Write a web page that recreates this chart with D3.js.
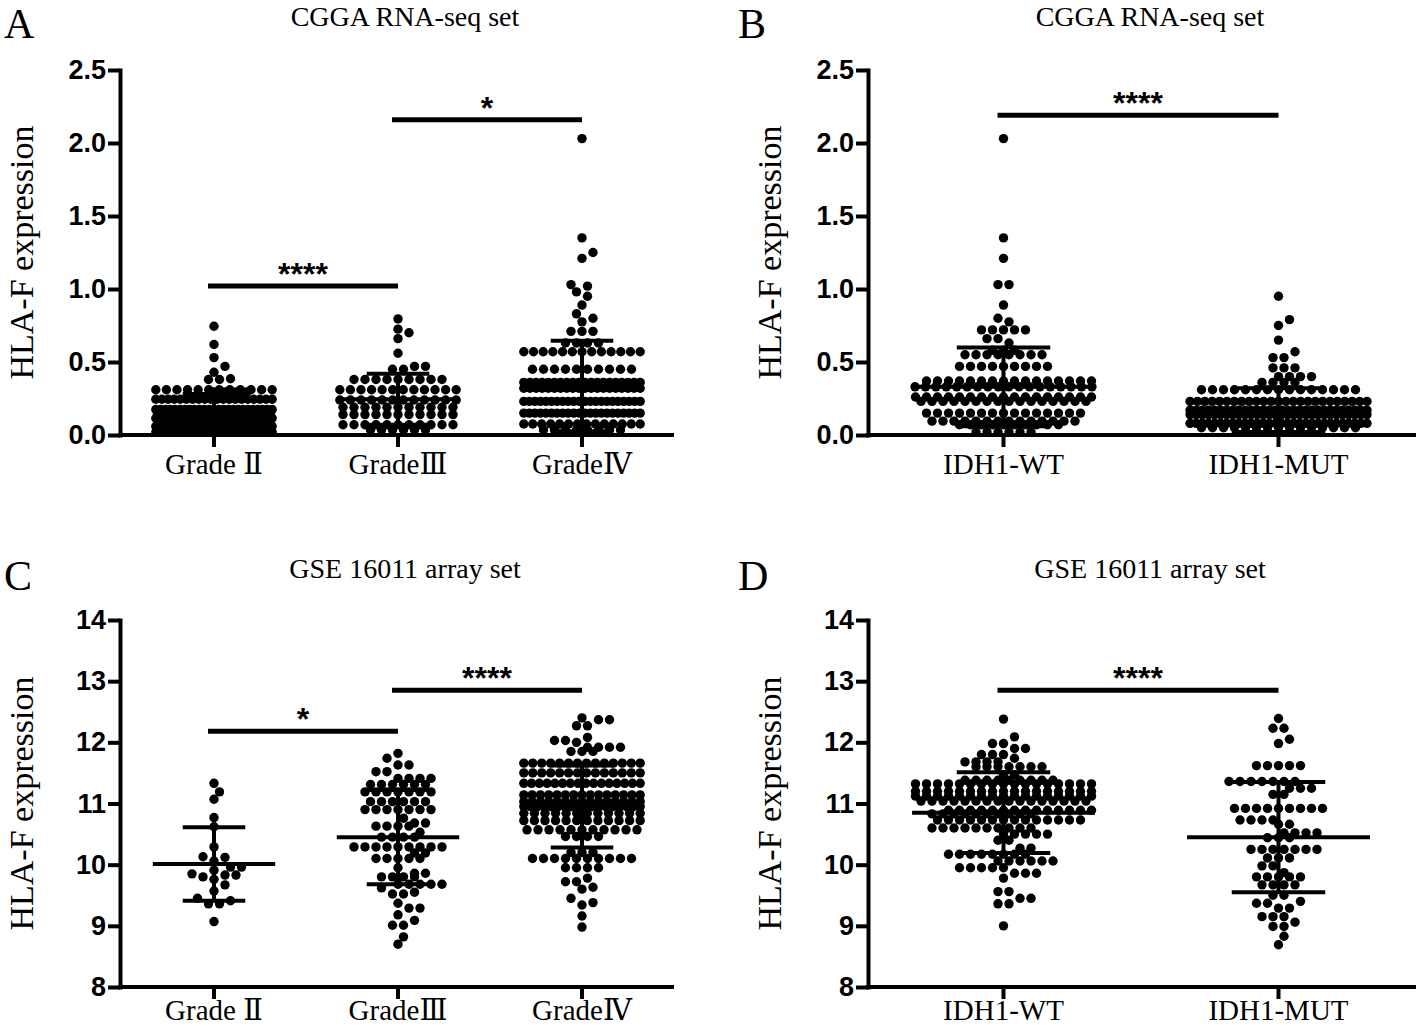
<!DOCTYPE html>
<html><head><meta charset="utf-8">
<script src="https://cdn.jsdelivr.net/npm/d3@7"></script>
<style>body{margin:0;background:#fff}</style>
</head><body>
<script>
// ---------------- DATA ----------------
const gradeCats = ["Grade Ⅱ", "GradeⅢ", "GradeⅣ"];
const idhCats = ["IDH1-WT", "IDH1-MUT"];
const ticksCGGA = [0, 0.5, 1, 1.5, 2, 2.5];
const ticksGSE = [8, 9, 10, 11, 12, 13, 14];
const panelTitles = ["CGGA RNA-seq set", "CGGA RNA-seq set", "GSE 16011 array set", "GSE 16011 array set"];
const panelLetters = ["A", "B", "C", "D"];
const yLabel = "HLA-F expression";

// points as [value, count] rows
const cggaGrade2 = [[0.745,1],[0.62,1],[0.53,1],[0.47,1],[0.43,1],[0.385,1],[0.38,2],[0.31,12],[0.295,4],[0.245,20],[0.175,25],[0.115,25],[0.06,25],[0.02,15]];
const cggaGrade3 = [[0.795,1],[0.725,1],[0.70,1],[0.66,1],[0.56,1],[0.47,2],[0.45,2],[0.38,9],[0.31,12],[0.24,12],[0.19,11],[0.14,11],[0.07,11],[0.035,6]];
const cggaGrade4 = [[2.03,1],[1.35,1],[1.25,1],[1.21,1],[1.03,1],[1.02,1],[0.98,1],[0.95,1],[0.89,1],[0.83,1],[0.80,1],[0.775,1],[0.71,3],[0.63,4],[0.57,13],[0.45,10],[0.36,20],[0.32,20],[0.23,22],[0.15,22],[0.075,14],[0.035,8]];
const cggaWT = [[2.03,1],[1.35,1],[1.21,1],[1.03,2],[0.89,1],[0.80,1],[0.775,1],[0.72,5],[0.66,2],[0.63,1],[0.58,3],[0.55,8],[0.47,9],[0.37,16],[0.33,18],[0.26,17],[0.23,16],[0.15,15],[0.095,14],[0.07,10],[0.02,6]];
const cggaMUT = [[0.95,1],[0.79,1],[0.75,1],[0.65,1],[0.57,1],[0.53,2],[0.46,3],[0.40,4],[0.36,4],[0.31,15],[0.23,25],[0.17,30],[0.14,30],[0.08,30],[0.05,15]];
const gseGrade2 = [[11.33,1],[11.19,1],[11.07,1],[10.77,1],[10.62,1],[10.29,1],[10.13,1],[10.12,1],[10.06,1],[9.96,2],[9.91,1],[9.85,1],[9.83,2],[9.80,1],[9.76,1],[9.67,1],[9.57,1],[9.45,1],[9.41,1],[9.36,2],[9.07,1]];
const gseGrade3 = [[11.82,1],[11.74,1],[11.63,2],[11.52,2],[11.41,4],[11.31,6],[11.19,7],[11.03,6],[10.9,7],[10.76,1],[10.68,2],[10.63,4],[10.53,1],[10.45,4],[10.29,9],[10.19,2],[10.1,5],[9.95,1],[9.86,2],[9.8,4],[9.68,5],[9.62,1],[9.55,1],[9.52,2],[9.37,1],[9.29,2],[9.18,1],[9.09,1],[9.01,2],[8.82,1],[8.7,1]];
const gseGrade4 = [[12.4,1],[12.37,2],[12.27,2],[12.08,1],[12.03,2],[12.0,1],[11.92,4],[11.85,3],[11.66,14],[11.5,14],[11.33,16],[11.14,15],[11.03,15],[10.95,18],[10.84,12],[10.72,12],[10.57,11],[10.46,4],[10.2,3],[10.1,10],[9.95,4],[9.78,1],[9.72,2],[9.63,1],[9.6,1],[9.45,1],[9.38,1],[9.34,1],[9.16,1],[8.98,1]];
const gseWT = [[12.38,1],[12.09,1],[11.98,2],[11.9,2],[11.8,3],[11.74,1],[11.68,4],[11.6,7],[11.47,2],[11.38,9],[11.32,17],[11.2,17],[11.12,17],[11.04,16],[10.89,14],[10.83,10],[10.73,14],[10.6,10],[10.5,5],[10.4,2],[10.27,2],[10.17,8],[10.06,6],[9.95,5],[9.86,3],[9.78,1],[9.56,2],[9.45,2],[9.36,2],[9.0,1]];
const gseMUT = [[12.39,1],[12.23,2],[12.05,1],[11.98,1],[11.62,5],[11.36,7],[11.25,3],[11.15,2],[10.92,9],[10.73,4],[10.66,2],[10.52,4],[10.44,3],[10.25,7],[10.11,3],[9.98,2],[9.87,1],[9.8,5],[9.67,4],[9.5,2],[9.4,1],[9.37,2],[9.29,2],[9.15,3],[9.06,1],[8.99,2],[8.83,1],[8.69,1]];

// mean and SD per group
const meansA = [0.14, 0.245, 0.335], sdsA = [0.14, 0.175, 0.31];
const meansB = [0.33, 0.17],          sdsB = [0.27, 0.15];
const meansC = [10.01, 10.45, 10.95], sdsC = [0.60, 0.77, 0.67];
const meansD = [10.85, 10.45],        sdsD = [0.66, 0.90];

// significance comparisons [from, to, y value, label]
const sigA = [["Grade Ⅱ", "GradeⅢ", 1.02, "****"], ["GradeⅢ", "GradeⅣ", 2.16, "*"]];
const sigB = [["IDH1-WT", "IDH1-MUT", 2.19, "****"]];
const sigC = [["Grade Ⅱ", "GradeⅢ", 12.18, "*"], ["GradeⅢ", "GradeⅣ", 12.85, "****"]];
const sigD = [["IDH1-WT", "IDH1-MUT", 12.85, "****"]];

// ---------------- LAYOUT / STYLE ----------------
const W = 1418, H = 1030;
const R = 4.7;
const svg = d3.select("body").append("svg").attr("width", W).attr("height", H)
  .style("font-family", "'Liberation Serif', 'Times New Roman', serif");

const panels = [
  {cats: gradeCats, groups: [cggaGrade2, cggaGrade3, cggaGrade4], means: meansA, sds: sdsA, sig: sigA,
   ticks: ticksCGGA, fmt: d3.format(".1f"), domain: [0, 2.5], yRange: [435, 70], xRange: [122, 674], axisX: 120,
   letterXY: [4, 38], titleY: 26, labDy: 23},
  {cats: idhCats, groups: [cggaWT, cggaMUT], means: meansB, sds: sdsB, sig: sigB,
   ticks: ticksCGGA, fmt: d3.format(".1f"), domain: [0, 2.5], yRange: [435, 70], xRange: [866, 1416], axisX: 868,
   letterXY: [738, 38], titleY: 26, labDy: 23},
  {cats: gradeCats, groups: [gseGrade2, gseGrade3, gseGrade4], means: meansC, sds: sdsC, sig: sigC,
   ticks: ticksGSE, fmt: d3.format("d"), domain: [8, 14], yRange: [987, 620], xRange: [122, 674], axisX: 120,
   letterXY: [4, 590], titleY: 578, labDy: 17},
  {cats: idhCats, groups: [gseWT, gseMUT], means: meansD, sds: sdsD, sig: sigD,
   ticks: ticksGSE, fmt: d3.format("d"), domain: [8, 14], yRange: [987, 620], xRange: [866, 1416], axisX: 868,
   letterXY: [738, 590], titleY: 578, labDy: 17}
];

function layoutGroup(rows, cx, y, maxSpan) {
  const placed = [];
  const gap = 2 * R + 1.6;
  rows.slice().sort((a, b) => a[0] - b[0]).forEach(([v, n]) => {
    const py = y(v);
    const s = n > 1 ? Math.min(gap, maxSpan / (n - 1)) : gap;
    const base = d3.range(n).map(i => (i - (n - 1) / 2) * s);
    const half = (n - 1) / 2 * s;
    let shifts = s < gap ? [0] : [0, s / 2, -s / 2, s, -s, 1.5 * s, -1.5 * s, 2 * s, -2 * s];
    shifts = shifts.filter(sh => half + Math.abs(sh) <= maxSpan / 2 + 0.5);
    let best = 0, bestScore = Infinity;
    for (const sh of shifts) {
      let score = 0;
      base.forEach(o => placed.forEach(p => {
        const d = Math.hypot(p.x - (cx + o + sh), p.y - py);
        if (d < 2 * R * 0.95) score += 2 * R - d;
      }));
      if (score < bestScore - 1e-6) { bestScore = score; best = sh; }
      if (score === 0) break;
    }
    base.forEach(o => placed.push({x: cx + o + best, y: py}));
  });
  return placed;
}

panels.forEach((p, pi) => {
  const g = svg.append("g");
  const y = d3.scaleLinear().domain(p.domain).range(p.yRange);
  const x = d3.scaleBand().domain(p.cats).range(p.xRange);
  const bw = x.bandwidth();
  const cx = c => x(c) + bw / 2;
  const meanW = bw * 0.665, capW = bw * 0.34;

  // y axis
  const yAxis = d3.axisLeft(y).tickValues(p.ticks).tickFormat(p.fmt).tickSize(12).tickPadding(2).tickSizeOuter(0);
  const ya = g.append("g").attr("transform", `translate(${p.axisX},0)`).call(yAxis);
  ya.select(".domain").attr("stroke", "#000").attr("stroke-width", 4).attr("stroke-linecap", "square");
  ya.selectAll(".tick line").attr("stroke", "#000").attr("stroke-width", 4);
  ya.selectAll(".tick text").attr("fill", "#000")
    .style("font-family", "'Liberation Sans', Arial, sans-serif").style("font-weight", "bold").style("font-size", "27px");

  // x axis
  const xAxis = d3.axisBottom(x).tickSize(12).tickPadding(4).tickSizeOuter(0);
  const xa = g.append("g").attr("transform", `translate(0,${p.yRange[0]})`).call(xAxis);
  xa.select(".domain").remove();
  xa.append("line").attr("x1", p.axisX - 2).attr("x2", p.xRange[1]).attr("y1", 0).attr("y2", 0)
    .attr("stroke", "#000").attr("stroke-width", 4);
  xa.selectAll(".tick line").attr("stroke", "#000").attr("stroke-width", 4);
  xa.selectAll(".tick text").attr("fill", "#000").attr("dy", p.labDy + "px")
    .style("font-family", "'Liberation Serif', 'DejaVu Serif', serif").style("font-size", "29px");

  // dots
  p.cats.forEach((c, i) => {
    const pts = layoutGroup(p.groups[i], cx(c), y, meanW - 6);
    g.append("g").selectAll("circle").data(pts).join("circle")
      .attr("cx", d => d.x).attr("cy", d => d.y).attr("r", R).attr("fill", "#000");
  });

  // mean +- SD
  p.cats.forEach((c, i) => {
    const m = p.means[i], s = p.sds[i];
    const lo = Math.max(p.domain[0], m - s), hi = m + s;
    const eg = g.append("g").attr("stroke", "#000").attr("stroke-width", 4);
    eg.append("line").attr("x1", cx(c)).attr("x2", cx(c)).attr("y1", y(lo)).attr("y2", y(hi));
    eg.append("line").attr("x1", cx(c) - meanW / 2).attr("x2", cx(c) + meanW / 2).attr("y1", y(m)).attr("y2", y(m));
    eg.append("line").attr("x1", cx(c) - capW / 2).attr("x2", cx(c) + capW / 2).attr("y1", y(hi)).attr("y2", y(hi));
    eg.append("line").attr("x1", cx(c) - capW / 2).attr("x2", cx(c) + capW / 2).attr("y1", y(lo)).attr("y2", y(lo));
  });

  // significance bars
  p.sig.forEach(([a, b, v, lab]) => {
    const x1 = cx(a) - 6, x2 = cx(b);
    g.append("line").attr("x1", x1).attr("x2", x2).attr("y1", y(v)).attr("y2", y(v))
      .attr("stroke", "#000").attr("stroke-width", 5);
    g.append("text").attr("x", (x1 + x2) / 2).attr("y", y(v) - 1).attr("text-anchor", "middle")
      .style("font-family", "'Liberation Sans', Arial, sans-serif").style("font-weight", "bold").style("font-size", "32px")
      .text(lab);
  });

  // titles, letters, y label
  const midX = (p.axisX + p.xRange[1]) / 2 + 8;
  g.append("text").attr("x", midX).attr("y", p.titleY).attr("text-anchor", "middle")
    .style("font-size", "28px").text(panelTitles[pi]);
  g.append("text").attr("x", p.letterXY[0]).attr("y", p.letterXY[1]).style("font-size", "42px").text(panelLetters[pi]);
  const ymid = (p.yRange[0] + p.yRange[1]) / 2;
  g.append("text").attr("transform", `translate(${p.axisX - 87},${ymid}) rotate(-90)`)
    .attr("text-anchor", "middle").style("font-size", "34px").text(yLabel);
});
</script>
</body></html>
